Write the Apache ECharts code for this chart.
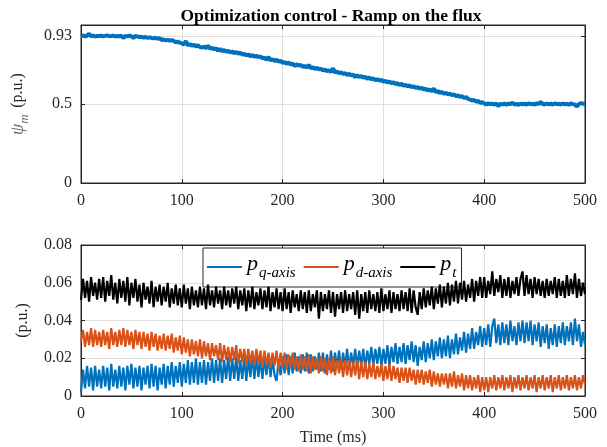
<!DOCTYPE html>
<html>
<head>
<meta charset="utf-8">
<script src="https://cdn.jsdelivr.net/npm/echarts@6/dist/echarts.min.js"></script>
<style>
  html, body { margin: 0; padding: 0; background: #fff; }
  #chart { width: 607px; height: 447px; }
</style>
</head>
<body>
<div id="chart"></div>
<script>
// Sampling step of the logged signals (ms)
const dt = 2;

// Tick values
const timeTicks = [0, 100, 200, 300, 400, 500];
const fluxTicks = [0, 0.5, 0.93];
const powerTicks = [0, 0.02, 0.04, 0.06, 0.08];

// Flux magnitude psi_m (p.u.), one sample every dt from 0 to 500 ms
const psiM = [
  0.930,0.934,0.928,0.932,0.945,0.929,0.933,0.927,0.931,0.930,
  0.932,0.928,0.931,0.934,0.929,0.930,0.933,0.927,0.931,0.929,
  0.932,0.918,0.930,0.928,0.933,0.929,0.917,0.931,0.927,0.924,
  0.925,0.921,0.924,0.919,0.922,0.918,0.916,0.919,0.913,0.916,
  0.905,0.908,0.903,0.906,0.901,0.904,0.899,0.890,0.895,0.888,
  0.884,0.876,0.898,0.871,0.879,0.868,0.876,0.864,0.872,0.860,
  0.858,0.864,0.852,0.870,0.850,0.855,0.846,0.853,0.836,0.848,
  0.835,0.841,0.830,0.838,0.826,0.833,0.822,0.829,0.818,0.826,
  0.812,0.818,0.807,0.814,0.803,0.809,0.799,0.806,0.796,0.802,
  0.788,0.793,0.780,0.798,0.776,0.784,0.772,0.780,0.768,0.774,
  0.760,0.766,0.754,0.763,0.750,0.757,0.740,0.752,0.742,0.748,
  0.735,0.741,0.730,0.748,0.726,0.733,0.722,0.729,0.718,0.724,
  0.712,0.718,0.707,0.714,0.703,0.726,0.699,0.706,0.695,0.701,
  0.690,0.695,0.684,0.691,0.680,0.686,0.670,0.682,0.671,0.677,
  0.666,0.672,0.660,0.667,0.656,0.662,0.651,0.657,0.647,0.653,
  0.641,0.647,0.636,0.643,0.631,0.637,0.626,0.632,0.621,0.628,
  0.616,0.622,0.611,0.618,0.606,0.612,0.601,0.608,0.596,0.603,
  0.591,0.597,0.585,0.592,0.580,0.598,0.575,0.582,0.570,0.577,
  0.565,0.571,0.560,0.566,0.555,0.561,0.549,0.556,0.544,0.550,
  0.538,0.544,0.532,0.528,0.522,0.526,0.515,0.519,0.507,0.511,
  0.503,0.497,0.505,0.499,0.502,0.496,0.504,0.487,0.501,0.498,
  0.503,0.496,0.502,0.499,0.508,0.497,0.501,0.494,0.503,0.498,
  0.502,0.496,0.504,0.499,0.501,0.497,0.505,0.498,0.514,0.500,
  0.497,0.503,0.498,0.502,0.496,0.504,0.499,0.501,0.497,0.503,
  0.498,0.502,0.495,0.503,0.499,0.497,0.484,0.500,0.505,0.501,
  0.503
];

// q-axis loss component (p.u.)
const pQ = [
  0.002,0.014,0.004,0.016,0.005,0.015,0.003,0.016,0.005,0.014,
  0.004,0.016,0.005,0.015,0.003,0.017,0.005,0.014,0.004,0.016,
  0.005,0.015,0.003,0.016,0.006,0.017,0.004,0.015,0.005,0.016,
  0.003,0.015,0.006,0.016,0.004,0.017,0.005,0.016,0.003,0.015,
  0.006,0.017,0.004,0.016,0.006,0.018,0.005,0.016,0.007,0.018,
  0.005,0.017,0.007,0.019,0.006,0.018,0.007,0.020,0.006,0.018,
  0.007,0.019,0.006,0.018,0.008,0.020,0.007,0.019,0.008,0.020,
  0.007,0.019,0.009,0.021,0.008,0.020,0.009,0.021,0.008,0.019,
  0.009,0.021,0.008,0.020,0.010,0.022,0.009,0.021,0.010,0.020,
  0.009,0.021,0.011,0.022,0.010,0.020,0.011,0.008,0.019,0.011,
  0.021,0.012,0.022,0.011,0.021,0.012,0.023,0.013,0.021,0.012,
  0.022,0.013,0.023,0.012,0.022,0.013,0.021,0.014,0.023,0.013,
  0.023,0.012,0.022,0.014,0.024,0.013,0.023,0.015,0.024,0.014,
  0.023,0.015,0.025,0.014,0.023,0.016,0.025,0.015,0.024,0.016,
  0.025,0.015,0.024,0.017,0.026,0.016,0.025,0.017,0.026,0.016,
  0.025,0.017,0.027,0.016,0.026,0.018,0.028,0.017,0.026,0.018,
  0.028,0.017,0.027,0.019,0.029,0.018,0.027,0.016,0.026,0.019,
  0.029,0.018,0.028,0.020,0.030,0.019,0.029,0.021,0.031,0.020,
  0.030,0.021,0.032,0.020,0.030,0.022,0.033,0.022,0.031,0.024,
  0.034,0.023,0.033,0.025,0.036,0.025,0.034,0.027,0.037,0.026,
  0.036,0.027,0.038,0.026,0.037,0.041,0.028,0.038,0.027,0.039,
  0.028,0.038,0.027,0.040,0.029,0.037,0.027,0.039,0.029,0.040,
  0.028,0.039,0.029,0.040,0.027,0.038,0.029,0.039,0.026,0.037,
  0.028,0.038,0.025,0.036,0.027,0.038,0.026,0.037,0.028,0.039,
  0.027,0.037,0.029,0.039,0.027,0.041,0.029,0.038,0.026,0.034,
  0.027
];

// d-axis loss component (p.u.)
const pD = [
  0.029,0.035,0.026,0.034,0.027,0.036,0.026,0.035,0.027,0.034,
  0.026,0.035,0.027,0.034,0.025,0.036,0.027,0.034,0.026,0.035,
  0.027,0.036,0.026,0.035,0.027,0.034,0.025,0.035,0.027,0.034,
  0.025,0.034,0.026,0.033,0.024,0.034,0.026,0.033,0.024,0.032,
  0.025,0.033,0.024,0.032,0.025,0.033,0.023,0.031,0.024,0.032,
  0.022,0.031,0.023,0.030,0.021,0.030,0.022,0.029,0.021,0.030,
  0.020,0.029,0.021,0.028,0.019,0.028,0.021,0.027,0.019,0.028,
  0.018,0.027,0.019,0.026,0.018,0.026,0.019,0.027,0.017,0.025,
  0.018,0.025,0.016,0.025,0.017,0.024,0.016,0.025,0.017,0.024,
  0.015,0.024,0.016,0.023,0.015,0.023,0.016,0.024,0.014,0.023,
  0.015,0.023,0.014,0.022,0.015,0.023,0.014,0.021,0.013,0.022,
  0.014,0.021,0.013,0.022,0.012,0.021,0.014,0.020,0.012,0.021,
  0.013,0.020,0.011,0.020,0.012,0.021,0.011,0.019,0.012,0.020,
  0.010,0.019,0.011,0.019,0.010,0.018,0.011,0.019,0.009,0.018,
  0.010,0.018,0.009,0.017,0.010,0.018,0.009,0.016,0.010,0.017,
  0.008,0.016,0.009,0.017,0.008,0.016,0.009,0.015,0.007,0.015,
  0.008,0.015,0.007,0.015,0.008,0.014,0.006,0.014,0.007,0.014,
  0.006,0.013,0.007,0.014,0.005,0.013,0.006,0.012,0.005,0.012,
  0.006,0.012,0.004,0.012,0.005,0.013,0.004,0.011,0.005,0.012,
  0.003,0.011,0.004,0.011,0.003,0.010,0.004,0.011,0.002,0.010,
  0.003,0.010,0.002,0.010,0.004,0.011,0.003,0.010,0.004,0.011,
  0.003,0.010,0.004,0.011,0.002,0.010,0.004,0.011,0.003,0.010,
  0.004,0.011,0.003,0.010,0.004,0.011,0.002,0.010,0.004,0.011,
  0.003,0.010,0.004,0.011,0.002,0.010,0.004,0.011,0.003,0.010,
  0.004,0.011,0.003,0.010,0.004,0.011,0.003,0.010,0.004,0.011,
  0.006
];

// total losses p_t (p.u.)
const pT = [
  0.051,0.062,0.052,0.061,0.050,0.063,0.053,0.060,0.051,0.062,
  0.052,0.063,0.050,0.061,0.053,0.064,0.051,0.060,0.049,0.062,
  0.052,0.061,0.050,0.063,0.048,0.060,0.052,0.062,0.050,0.059,
  0.047,0.060,0.051,0.058,0.049,0.061,0.047,0.058,0.050,0.059,
  0.048,0.058,0.050,0.060,0.047,0.057,0.049,0.059,0.048,0.057,
  0.047,0.059,0.049,0.057,0.046,0.058,0.048,0.056,0.047,0.058,
  0.048,0.057,0.046,0.059,0.048,0.056,0.047,0.058,0.049,0.056,
  0.046,0.058,0.048,0.056,0.047,0.057,0.049,0.058,0.046,0.056,
  0.048,0.057,0.045,0.056,0.047,0.058,0.046,0.055,0.048,0.057,
  0.046,0.056,0.047,0.058,0.045,0.055,0.047,0.057,0.046,0.055,
  0.045,0.057,0.046,0.055,0.044,0.056,0.047,0.054,0.045,0.056,
  0.046,0.055,0.044,0.056,0.045,0.054,0.047,0.056,0.041,0.055,
  0.045,0.054,0.046,0.056,0.044,0.055,0.042,0.054,0.046,0.055,
  0.044,0.056,0.045,0.054,0.046,0.055,0.043,0.056,0.041,0.054,
  0.045,0.055,0.044,0.056,0.046,0.054,0.045,0.055,0.044,0.057,
  0.045,0.054,0.046,0.056,0.044,0.055,0.046,0.054,0.045,0.056,
  0.046,0.055,0.045,0.057,0.044,0.056,0.047,0.043,0.055,0.046,
  0.057,0.047,0.056,0.048,0.058,0.046,0.057,0.049,0.059,0.047,
  0.058,0.049,0.060,0.048,0.059,0.050,0.061,0.049,0.060,0.051,
  0.061,0.050,0.059,0.052,0.062,0.050,0.061,0.053,0.063,0.052,
  0.063,0.052,0.061,0.054,0.066,0.053,0.062,0.055,0.064,0.052,
  0.062,0.053,0.063,0.052,0.061,0.054,0.063,0.053,0.062,0.066,
  0.053,0.064,0.054,0.062,0.052,0.063,0.054,0.062,0.053,0.061,
  0.052,0.062,0.053,0.061,0.054,0.063,0.052,0.062,0.053,0.061,
  0.052,0.064,0.053,0.062,0.054,0.065,0.052,0.062,0.053,0.060,
  0.054
];

const SERIF = 'Liberation Serif, Times New Roman, serif';
const AXIS_COLOR = '#262626';
const GRID_COLOR = '#dedede';

// pair each sample with its time stamp
const withTime = arr => arr.map((v, i) => [i * dt, v]);

const legendNames = { pq: ['p', 'q-axis'], pd: ['p', 'd-axis'], pt: ['p', 't'] };

function timeAxis(gridIndex) {
  return {
    type: 'value', gridIndex, min: 0, max: 500, interval: 100,
    axisLine: { show: true, lineStyle: { color: AXIS_COLOR, width: 1 } },
    axisTick: { show: true, inside: true, length: 4, lineStyle: { color: AXIS_COLOR } },
    axisLabel: { show: true, color: AXIS_COLOR, fontFamily: SERIF, fontSize: 16, margin: 10 },
    splitLine: { show: true, lineStyle: { color: GRID_COLOR, width: 1 } }
  };
}

function topTimeAxis(gridIndex) {
  return {
    type: 'value', gridIndex, min: 0, max: 500, interval: 100, position: 'top',
    axisLine: { show: true, onZero: false, lineStyle: { color: AXIS_COLOR, width: 1 } },
    axisTick: { show: true, inside: true, length: 4, lineStyle: { color: AXIS_COLOR } },
    axisLabel: { show: false }, splitLine: { show: false }
  };
}

const option = {
  backgroundColor: '#fff',
  animation: false,
  title: {
    text: 'Optimization control - Ramp on the flux',
    left: 326, textAlign: 'center', top: 2,
    textStyle: { fontFamily: SERIF, fontWeight: 'bold', fontSize: 17.5, color: '#000' }
  },
  grid: [
    { left: 81, right: 22, top: 25, height: 158, show: true, borderColor: AXIS_COLOR, borderWidth: 1 },
    { left: 81, right: 22, top: 245, height: 156, show: true, borderColor: AXIS_COLOR, borderWidth: 1 }
  ],
  legend: {
    data: ['pq', 'pd', 'pt'],
    left: 203, top: 248, width: 262,
    backgroundColor: '#fff', borderColor: AXIS_COLOR, borderWidth: 1,
    padding: [5, 5, 6, 4], itemGap: 8,
    itemWidth: 35, itemHeight: 2, icon: 'rect',
    formatter: name => '{p|' + legendNames[name][0] + '}{s|' + legendNames[name][1] + '}',
    textStyle: {
      color: '#000',
      rich: {
        p: { fontFamily: SERIF, fontStyle: 'italic', fontSize: 22, color: '#000', lineHeight: 28, verticalAlign: 'top' },
        s: { fontFamily: SERIF, fontStyle: 'italic', fontSize: 15, color: '#000', lineHeight: 28, verticalAlign: 'bottom', padding: [0, 0, 0, 1] }
      }
    }
  },
  xAxis: [
    timeAxis(0),
    topTimeAxis(0),
    Object.assign(timeAxis(1), {
      name: 'Time (ms)', nameLocation: 'middle', nameGap: 34,
      nameTextStyle: { fontFamily: SERIF, fontSize: 16, color: AXIS_COLOR }
    }),
    topTimeAxis(1)
  ],
  yAxis: [
    {
      type: 'value', gridIndex: 0, min: 0, max: 1,
      name: '{psi|ψ}{m|m}  {u|(p.u.)}', nameLocation: 'middle', nameGap: 50,
      nameTextStyle: {
        rich: {
          psi: { fontFamily: SERIF, fontStyle: 'italic', fontSize: 18, color: '#6e6e6e' },
          m: { fontFamily: SERIF, fontStyle: 'italic', fontSize: 13, color: '#6e6e6e', verticalAlign: 'bottom', lineHeight: 26 },
          u: { fontFamily: SERIF, fontSize: 16, color: AXIS_COLOR }
        }
      },
      axisLine: { show: true, lineStyle: { color: AXIS_COLOR } },
      axisTick: { show: true, inside: true, length: 4, customValues: fluxTicks, lineStyle: { color: AXIS_COLOR } },
      axisLabel: { color: AXIS_COLOR, fontFamily: SERIF, fontSize: 16, margin: 9, customValues: fluxTicks },
      splitLine: { show: true, lineStyle: { color: GRID_COLOR } }
    },
    {
      type: 'value', gridIndex: 0, min: 0, max: 1, position: 'right',
      axisLine: { show: true, onZero: false, lineStyle: { color: AXIS_COLOR } },
      axisTick: { show: true, inside: true, length: 4, customValues: fluxTicks, lineStyle: { color: AXIS_COLOR } },
      axisLabel: { show: false }, splitLine: { show: false }
    },
    {
      type: 'value', gridIndex: 1, min: 0, max: 0.08, interval: 0.02,
      name: '(p.u.)', nameLocation: 'middle', nameGap: 50,
      nameTextStyle: { fontFamily: SERIF, fontSize: 16, color: AXIS_COLOR },
      axisLine: { show: true, lineStyle: { color: AXIS_COLOR } },
      axisTick: { show: true, inside: true, length: 4, lineStyle: { color: AXIS_COLOR } },
      axisLabel: {
        color: AXIS_COLOR, fontFamily: SERIF, fontSize: 16, margin: 9,
        formatter: v => powerTicks.includes(+v.toFixed(2)) ? (v === 0 ? '0' : v.toFixed(2)) : ''
      },
      splitLine: { show: true, lineStyle: { color: GRID_COLOR } }
    },
    {
      type: 'value', gridIndex: 1, min: 0, max: 0.08, interval: 0.02, position: 'right',
      axisLine: { show: true, onZero: false, lineStyle: { color: AXIS_COLOR } },
      axisTick: { show: true, inside: true, length: 4, lineStyle: { color: AXIS_COLOR } },
      axisLabel: { show: false }, splitLine: { show: false }
    }
  ],
  series: [
    {
      name: 'psi', type: 'line', xAxisIndex: 0, yAxisIndex: 0,
      data: withTime(psiM), symbol: 'none',
      lineStyle: { color: '#0072BD', width: 4 }, itemStyle: { color: '#0072BD' }, z: 3
    },
    {
      name: 'pq', type: 'line', xAxisIndex: 2, yAxisIndex: 2,
      data: withTime(pQ), symbol: 'none',
      lineStyle: { color: '#0072BD', width: 2.2 }, itemStyle: { color: '#0072BD' }, z: 3
    },
    {
      name: 'pd', type: 'line', xAxisIndex: 2, yAxisIndex: 2,
      data: withTime(pD), symbol: 'none',
      lineStyle: { color: '#D95319', width: 2.2 }, itemStyle: { color: '#D95319' }, z: 4
    },
    {
      name: 'pt', type: 'line', xAxisIndex: 2, yAxisIndex: 2,
      data: withTime(pT), symbol: 'none',
      lineStyle: { color: '#000000', width: 2.2 }, itemStyle: { color: '#000000' }, z: 5
    }
  ]
};

const chart = echarts.init(document.getElementById('chart'), null, { renderer: 'canvas' });
chart.setOption(option);
</script>
</body>
</html>
